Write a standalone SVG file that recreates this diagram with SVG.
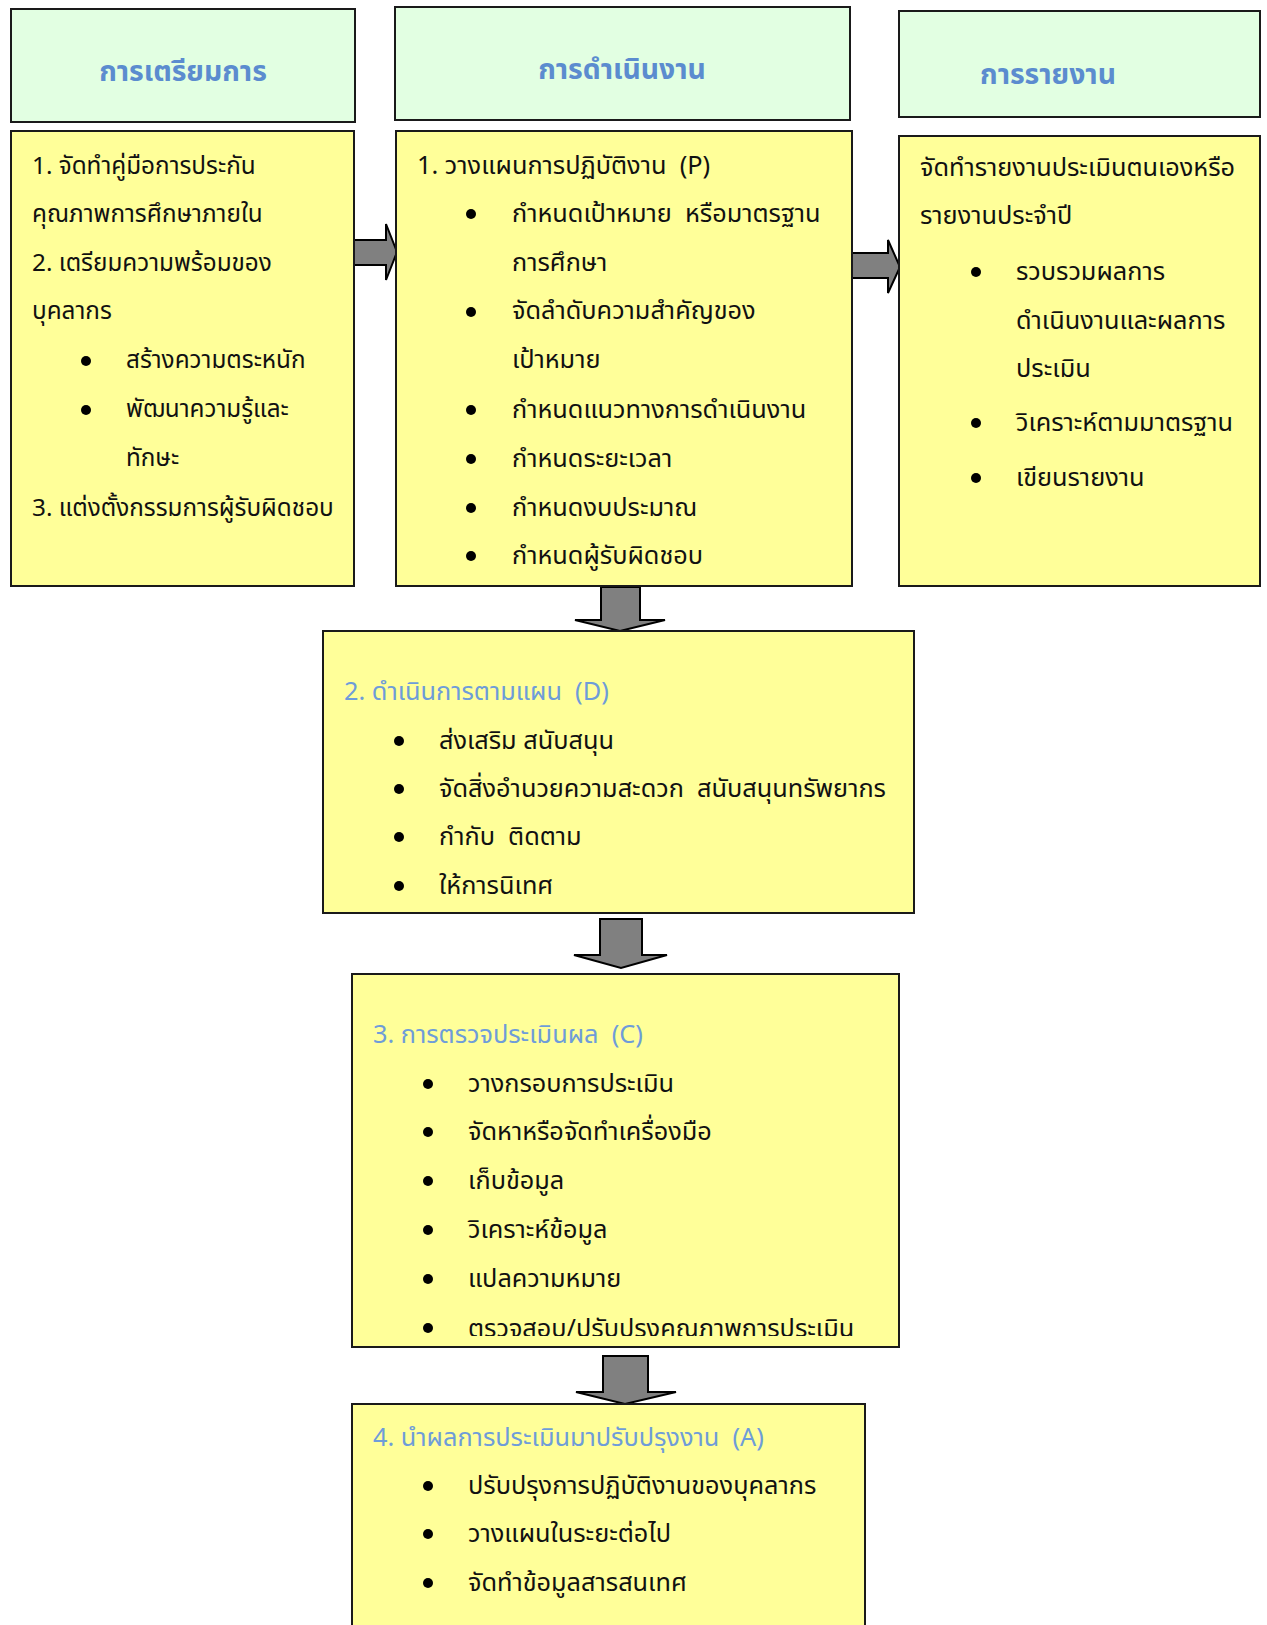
<svg xmlns="http://www.w3.org/2000/svg" width="1267" height="1625" viewBox="0 0 1267 1625">
<style>
.hdr{fill:#E2FFE2;stroke:#1a1a1a;stroke-width:2}
.box{fill:#FFFF99;stroke:#1a1a1a;stroke-width:2}
.arr{fill:#808080;stroke:#000;stroke-width:2;stroke-linejoin:miter}
text{font-family:"Noto Sans Thai","Noto Sans","DejaVu Sans",sans-serif;white-space:pre}
.h{font-size:28.3px;font-weight:bold;fill:#5B8CCF}
.t{font-size:25.3px;fill:#111}
.t1{font-size:24.3px;fill:#111}
.b{font-size:25.3px;fill:#6E9CD9}
.dot{fill:#000}
</style>
<defs>
<clipPath id="clipC"><rect x="352" y="974" width="547" height="362"/></clipPath>
</defs>
<rect width="1267" height="1625" fill="#fff"/>

<g id="connectors">
<polygon class="arr" points="354,240 386,240 386,224 397,252 386,280 386,265 354,265"/>
<polygon class="arr" points="852,253 888,253 888,240 900,267 888,293 888,278 852,278"/>
<polygon class="arr" points="601,587 640,587 640,620 665,620 620,631 575,620 601,620"/>
<polygon class="arr" points="600,919 642,919 642,955 667,955 621,968 574,955 600,955"/>
<polygon class="arr" points="603,1356 648,1356 648,1392 676,1392 625,1404 576,1392 603,1392"/>
</g>

<g id="hdr-prep">
<rect class="hdr" x="11" y="9" width="344" height="113"/>
<text class="h" x="183" y="81" text-anchor="middle">การเตรียมการ</text>
</g>
<g id="hdr-op">
<rect class="hdr" x="395" y="7" width="455" height="113"/>
<text class="h" x="622" y="79" text-anchor="middle">การดำเนินงาน</text>
</g>
<g id="hdr-report">
<rect class="hdr" x="899" y="11" width="361" height="106"/>
<text class="h" x="980" y="84">การรายงาน</text>
</g>

<g id="prep">
<rect class="box" x="11" y="131" width="343" height="455"/>
<text class="t1" x="32" y="174">1. จัดทำคู่มือการประกัน</text>
<text class="t1" x="32" y="222">คุณภาพการศึกษาภายใน</text>
<text class="t1" x="32" y="271">2. เตรียมความพร้อมของ</text>
<text class="t1" x="32" y="319">บุคลากร</text>
<circle class="dot" cx="86" cy="361" r="5"/>
<text class="t1" x="126" y="368">สร้างความตระหนัก</text>
<circle class="dot" cx="86" cy="410" r="5"/>
<text class="t1" x="126" y="417">พัฒนาความรู้และ</text>
<text class="t1" x="126" y="466">ทักษะ</text>
<text class="t1" x="32" y="516">3. แต่งตั้งกรรมการผู้รับผิดชอบ</text>
</g>

<g id="plan">
<rect class="box" x="396" y="131" width="456" height="455"/>
<text class="t" x="417" y="174">1. วางแผนการปฏิบัติงาน  (P)</text>
<circle class="dot" cx="471" cy="214" r="5"/>
<text class="t" x="512" y="222">กำหนดเป้าหมาย  หรือมาตรฐาน</text>
<text class="t" x="512" y="271">การศึกษา</text>
<circle class="dot" cx="471" cy="312" r="5"/>
<text class="t" x="512" y="319">จัดลำดับความสำคัญของ</text>
<text class="t" x="512" y="368">เป้าหมาย</text>
<circle class="dot" cx="471" cy="410" r="5"/>
<text class="t" x="512" y="418">กำหนดแนวทางการดำเนินงาน</text>
<circle class="dot" cx="471" cy="459" r="5"/>
<text class="t" x="512" y="467">กำหนดระยะเวลา</text>
<circle class="dot" cx="471" cy="508" r="5"/>
<text class="t" x="512" y="516">กำหนดงบประมาณ</text>
<circle class="dot" cx="471" cy="556" r="5"/>
<text class="t" x="512" y="564">กำหนดผู้รับผิดชอบ</text>
</g>

<g id="report">
<rect class="box" x="899" y="136" width="361" height="450"/>
<text class="t" x="920" y="176">จัดทำรายงานประเมินตนเองหรือ</text>
<text class="t" x="920" y="224">รายงานประจำปี</text>
<circle class="dot" cx="976" cy="272" r="5"/>
<text class="t" x="1016" y="280">รวบรวมผลการ</text>
<text class="t" x="1016" y="329">ดำเนินงานและผลการ</text>
<text class="t" x="1016" y="377">ประเมิน</text>
<circle class="dot" cx="976" cy="423" r="5"/>
<text class="t" x="1016" y="431">วิเคราะห์ตามมาตรฐาน</text>
<circle class="dot" cx="976" cy="478" r="5"/>
<text class="t" x="1016" y="486">เขียนรายงาน</text>
</g>

<g id="do">
<rect class="box" x="323" y="631" width="591" height="282"/>
<text class="b" x="344" y="700">2. ดำเนินการตามแผน  (D)</text>
<circle class="dot" cx="399" cy="741" r="5"/>
<text class="t" x="439" y="749">ส่งเสริม สนับสนุน</text>
<circle class="dot" cx="399" cy="789" r="5"/>
<text class="t" x="439" y="797">จัดสิ่งอำนวยความสะดวก  สนับสนุนทรัพยากร</text>
<circle class="dot" cx="399" cy="837" r="5"/>
<text class="t" x="439" y="845">กำกับ  ติดตาม</text>
<circle class="dot" cx="399" cy="886" r="5"/>
<text class="t" x="439" y="894">ให้การนิเทศ</text>
</g>

<g id="check">
<rect class="box" x="352" y="974" width="547" height="373"/>
<text class="b" x="373" y="1043">3. การตรวจประเมินผล  (C)</text>
<circle class="dot" cx="428" cy="1084" r="5"/>
<text class="t" x="468" y="1092">วางกรอบการประเมิน</text>
<circle class="dot" cx="428" cy="1132" r="5"/>
<text class="t" x="468" y="1140">จัดหาหรือจัดทำเครื่องมือ</text>
<circle class="dot" cx="428" cy="1181" r="5"/>
<text class="t" x="468" y="1189">เก็บข้อมูล</text>
<circle class="dot" cx="428" cy="1230" r="5"/>
<text class="t" x="468" y="1238">วิเคราะห์ข้อมูล</text>
<circle class="dot" cx="428" cy="1279" r="5"/>
<text class="t" x="468" y="1287">แปลความหมาย</text>
<circle class="dot" cx="428" cy="1328" r="5"/>
<text class="t" x="468" y="1337" clip-path="url(#clipC)">ตรวจสอบ/ปรับปรุงคุณภาพการประเมิน</text>
</g>

<g id="act">
<rect class="box" x="352" y="1404" width="513" height="230"/>
<text class="b" x="373" y="1446">4. นำผลการประเมินมาปรับปรุงงาน  (A)</text>
<circle class="dot" cx="428" cy="1486" r="5"/>
<text class="t" x="468" y="1494">ปรับปรุงการปฏิบัติงานของบุคลากร</text>
<circle class="dot" cx="428" cy="1534" r="5"/>
<text class="t" x="468" y="1542">วางแผนในระยะต่อไป</text>
<circle class="dot" cx="428" cy="1583" r="5"/>
<text class="t" x="468" y="1591">จัดทำข้อมูลสารสนเทศ</text>
</g>
</svg>
